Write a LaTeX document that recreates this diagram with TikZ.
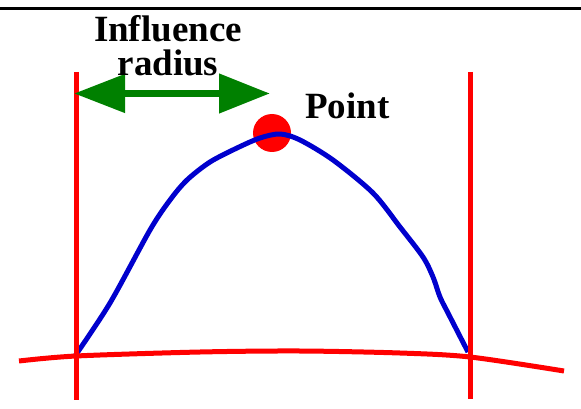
\documentclass[tikz,border=0pt]{standalone}
\usepackage{fontspec}
\setmainfont{Liberation Serif}
\usetikzlibrary{arrows.meta,positioning}
\definecolor{curveblue}{RGB}{0,0,205}
\definecolor{arrowgreen}{RGB}{0,128,0}
\begin{document}
\begin{tikzpicture}[x=1pt, y=-1pt,
  wall/.style={red, line width=5pt},
  profile/.style={curveblue, line width=5pt, line join=round},
  label/.style={inner sep=0pt, font=\fontsize{37}{34}\selectfont\bfseries}]
\useasboundingbox (0,0) rectangle (581,409);
% top rule
\coordinate (tl) at (0,8.5);
\coordinate (tr) at (581,8.5);
\draw[line width=2.5pt] (tl) -- (tr);
% the point
\node[circle, fill=red, minimum size=38pt, inner sep=0pt] (pt) at (272,133) {};
% influence profile
\draw[profile] plot[smooth, tension=0.5] coordinates {(75,356) (110,303) (150,230)
  (170,200) (187,180) (210,162) (237,148) (260,138) (280,134) (300,140) (333,160)
  (373,193) (400,227) (423,257) (433,277) (440,297) (448,313) (468,352)};
% limits
\coordinate (lt) at (76.5,72);
\coordinate (lb) at (76.5,400);
\coordinate (rt) at (470,72);
\coordinate (rb) at (470,399);
\draw[wall] (lt) -- (lb);
\draw[wall] (rt) -- (rb);
\draw[wall] plot[smooth] coordinates {(19,361) (76,356) (200,352) (300,351)
  (400,353) (470,357) (564,371)};
% radius arrow
\coordinate (ra) at (74,93.5);
\coordinate (rr) at (270,93.5);
\draw[arrowgreen, line width=7.5pt,
  {Triangle[length=51pt, width=37pt]}-{Triangle[length=51pt, width=38pt]}] (ra) -- (rr);
% labels
\node[label, align=center, anchor=base] (rad) at (168,76) {Influence\\radius};
\node[label, anchor=base west] (ptlabel) at (305,119) {Point};
\end{tikzpicture}
\end{document}
